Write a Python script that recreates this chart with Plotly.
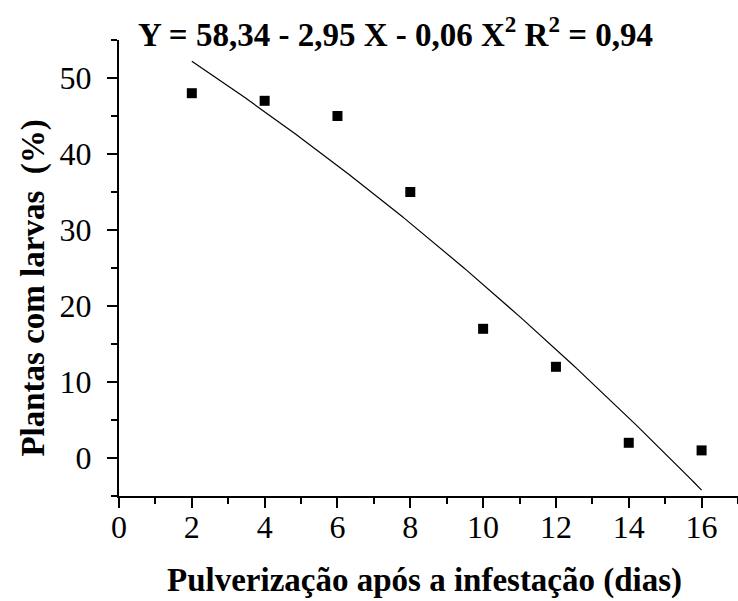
import numpy as np
import plotly.graph_objects as go

# Observed data: percentage of plants with larvae by spraying day
dias = [2, 4, 6, 8, 10, 12, 14, 16]
plantas_com_larvas = [48, 47, 45, 35, 17, 12, 2, 1]

# Fitted quadratic regression: Y = b0 + b1*X + b2*X^2
b0, b1, b2 = 58.34, -2.95, -0.06
equacao = "Y = 58,34 - 2,95 X - 0,06 X<sup>2</sup> R<sup>2</sup> = 0,94"

x_fit = np.linspace(min(dias), max(dias), 200)
y_fit = b0 + b1 * x_fit + b2 * x_fit ** 2

serif = "Liberation Serif, Times New Roman, serif"

fig = go.Figure()
fig.add_trace(go.Scatter(
    x=x_fit, y=y_fit, mode="lines",
    line=dict(color="black", width=1.2),
    hoverinfo="skip", showlegend=False,
))
fig.add_trace(go.Scatter(
    x=dias, y=plantas_com_larvas, mode="markers",
    marker=dict(symbol="square", size=10, color="black", line=dict(width=0)),
    showlegend=False,
))

axis_common = dict(
    showgrid=False, zeroline=False,
    showline=True, linecolor="black", linewidth=2,
    ticks="outside", ticklen=10, tickwidth=2, tickcolor="black",
    tickfont=dict(family=serif, size=32, color="black"),
)

fig.update_xaxes(
    range=[0, 17], tick0=0, dtick=2, ticklabelstandoff=-8,
    minor=dict(ticks="outside", ticklen=6, tickwidth=2, tickcolor="black", dtick=1, tick0=0),
    **axis_common,
)
fig.update_yaxes(
    range=[-5, 55], tick0=0, dtick=10, ticklabelstandoff=9,
    minor=dict(ticks="outside", ticklen=6, tickwidth=2, tickcolor="black", dtick=5, tick0=0),
    **axis_common,
)

bold = dict(family=serif, size=33, color="black", weight="bold")
fig.add_annotation(
    text=equacao, xref="paper", yref="paper",
    x=(395 - 118.5) / 619.5, y=(496 - 32) / 456,
    xanchor="center", yanchor="middle", showarrow=False, font=bold,
)
fig.add_annotation(
    text="Pulverização após a infestação (dias)", xref="paper", yref="paper",
    x=(424 - 118.5) / 619.5, y=-(580 - 496) / 456,
    xanchor="center", yanchor="middle", showarrow=False, font=bold,
)
fig.add_annotation(
    text="Plantas com larvas  (%)", xref="paper", yref="paper",
    x=-(118.5 - 32) / 619.5, y=(496 - 288) / 456,
    xanchor="center", yanchor="middle", textangle=-90, showarrow=False, font=bold,
)

fig.update_layout(
    width=738, height=601,
    margin=dict(l=118.5, r=0, t=40, b=105),
    plot_bgcolor="white", paper_bgcolor="white",
)

fig.write_html("out.html")
